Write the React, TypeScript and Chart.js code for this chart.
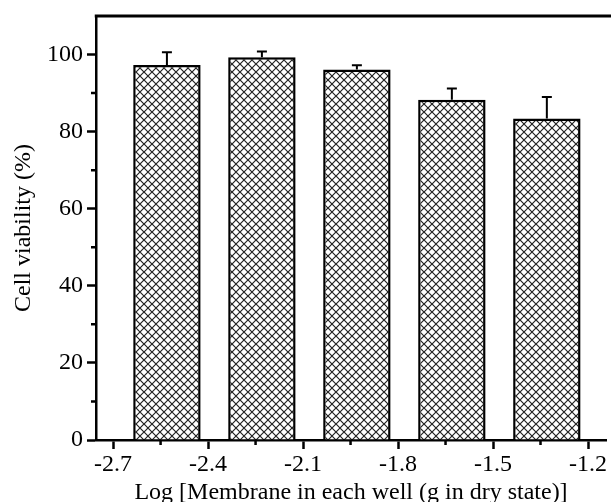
import React, { useEffect, useRef } from "react";
import { Chart, registerables } from "chart.js";

Chart.register(...registerables);

// Log of membrane mass per well and the measured cell viability (mean, SD)
const logMass = [-2.53, -2.23, -1.93, -1.63, -1.33];
const viability = [97.3, 99.3, 96.1, 88.3, 83.4];
const viabilitySD = [3.3, 1.5, 1.1, 2.9, 5.6];

const xMajorTicks = [-2.7, -2.4, -2.1, -1.8, -1.5, -1.2];
const xMinorTicks = [-2.55, -2.25, -1.95, -1.65, -1.35];
const yMajorTicks = [0, 20, 40, 60, 80, 100];
const yMinorTicks = [10, 30, 50, 70, 90];

const X_MIN = -2.754;
const X_MAX = -1.143;
const Y_MIN = 0;
const Y_MAX = 110;

const FONT = "'Liberation Serif', 'Times New Roman', serif";
const AXIS_W = 2.5;

function makeCrosshatch(): CanvasPattern | string {
  const s = 8;
  const c = document.createElement("canvas");
  c.width = s;
  c.height = s;
  const g = c.getContext("2d");
  if (!g) return "#ccc";
  g.fillStyle = "#ffffff";
  g.fillRect(0, 0, s, s);
  g.strokeStyle = "#222222";
  g.lineWidth = 1.2;
  g.beginPath();
  g.moveTo(-1, -1);
  g.lineTo(s + 1, s + 1);
  g.moveTo(-1, s + 1);
  g.lineTo(s + 1, -1);
  g.stroke();
  return g.createPattern(c, "repeat") || "#ccc";
}

const decorations = {
  id: "decorations",
  afterDatasetsDraw(chart: any) {
    const { ctx, chartArea, scales } = chart;
    const x = scales.x;
    const y = scales.y;
    ctx.save();
    ctx.strokeStyle = "#000";
    ctx.lineCap = "butt";

    // upper error bars with caps
    ctx.lineWidth = 2;
    logMass.forEach((m, i) => {
      const px = x.getPixelForValue(m);
      const yb = y.getPixelForValue(viability[i]);
      const yt = y.getPixelForValue(viability[i] + viabilitySD[i]);
      ctx.beginPath();
      ctx.moveTo(px, yb);
      ctx.lineTo(px, yt);
      ctx.moveTo(px - 5, yt);
      ctx.lineTo(px + 5, yt);
      ctx.stroke();
    });

    // top frame line
    ctx.lineWidth = 3;
    ctx.beginPath();
    ctx.moveTo(chartArea.left - AXIS_W / 2, chartArea.top);
    ctx.lineTo(chart.width, chartArea.top);
    ctx.stroke();

    // minor ticks
    ctx.lineWidth = AXIS_W;
    ctx.beginPath();
    yMinorTicks.forEach((v) => {
      const py = y.getPixelForValue(v);
      ctx.moveTo(chartArea.left - 5, py);
      ctx.lineTo(chartArea.left, py);
    });
    xMinorTicks.forEach((v) => {
      const px = x.getPixelForValue(v);
      ctx.moveTo(px, chartArea.bottom);
      ctx.lineTo(px, chartArea.bottom + 5);
    });
    ctx.stroke();
    ctx.restore();
  },
};

export default function App() {
  const canvasRef = useRef<HTMLCanvasElement | null>(null);

  useEffect(() => {
    const canvas = canvasRef.current;
    if (!canvas) return;
    const hatch = makeCrosshatch();

    const chart = new Chart(canvas, {
      type: "bar",
      data: {
        datasets: [
          {
            label: "Cell viability",
            data: logMass.map((m, i) => ({ x: m, y: viability[i] })),
            backgroundColor: hatch as any,
            borderColor: "#000",
            borderWidth: 2.5,
            barPercentage: 0.71,
            categoryPercentage: 1,
          },
        ],
      },
      options: {
        responsive: false,
        animation: false,
        events: [],
        layout: { padding: { top: 11, left: 12, right: 0, bottom: 5 } },
        plugins: {
          legend: { display: false },
          tooltip: { enabled: false },
        },
        scales: {
          x: {
            type: "linear",
            min: X_MIN,
            max: X_MAX,
            offset: false,
            afterBuildTicks: (s: any) => {
              s.ticks = xMajorTicks.map((v) => ({ value: v }));
            },
            grid: {
              display: true,
              offset: false,
              drawOnChartArea: false,
              drawTicks: true,
              tickLength: 9,
              tickWidth: AXIS_W,
              tickColor: "#000",
            },
            border: { display: true, color: "#000", width: AXIS_W },
            ticks: {
              autoSkip: false,
              maxRotation: 0,
              padding: 4,
              color: "#000",
              font: { family: FONT, size: 24, lineHeight: 1 },
              callback: (v: any) => Number(v).toFixed(1),
            },
            title: {
              display: true,
              text: "Log [Membrane in each well (g in dry state)]",
              color: "#000",
              font: { family: FONT, size: 24, lineHeight: 1 },
              padding: { top: 0, bottom: 5 },
            },
          },
          y: {
            type: "linear",
            min: Y_MIN,
            max: Y_MAX,
            afterBuildTicks: (s: any) => {
              s.ticks = yMajorTicks.map((v) => ({ value: v }));
            },
            grid: {
              display: true,
              drawOnChartArea: false,
              drawTicks: true,
              tickLength: 9,
              tickWidth: AXIS_W,
              tickColor: "#000",
            },
            border: { display: true, color: "#000", width: AXIS_W },
            ticks: {
              padding: 4,
              color: "#000",
              font: { family: FONT, size: 24, lineHeight: 1 },
              callback: (v: any) => String(v),
            },
            title: {
              display: true,
              text: "Cell viability (%)",
              color: "#000",
              font: { family: FONT, size: 24, lineHeight: 1 },
              padding: { top: 0, bottom: 7 },
            },
          },
        },
      },
      plugins: [decorations],
    });

    return () => chart.destroy();
  }, []);

  return (
    <div
      style={{
        position: "fixed",
        left: 0,
        top: 0,
        width: 611,
        height: 502,
        overflow: "hidden",
        background: "#fff",
      }}
    >
      <canvas ref={canvasRef} width={611} height={515} style={{ display: "block" }} />
    </div>
  );
}
